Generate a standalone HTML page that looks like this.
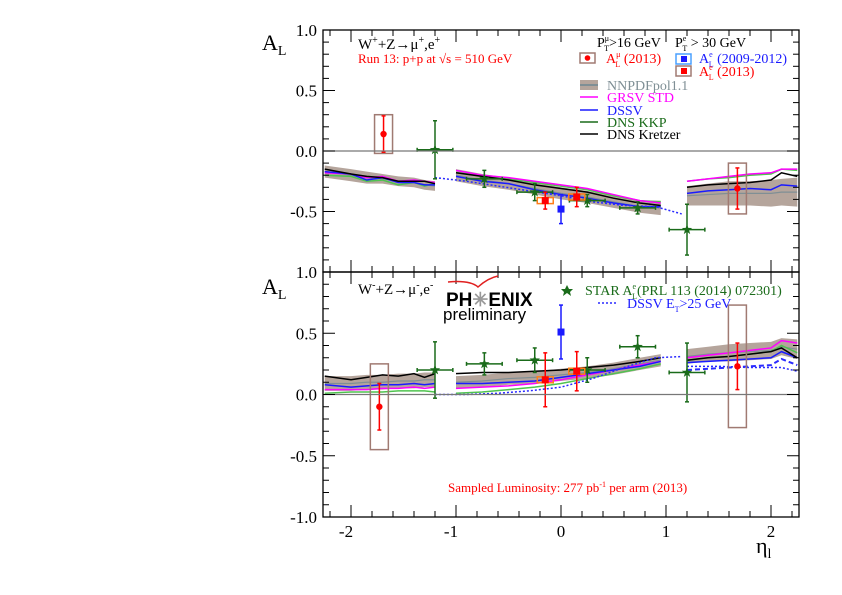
<!DOCTYPE html>
<html><head><meta charset="utf-8"><style>
body{margin:0;background:#fff;width:842px;height:595px;overflow:hidden;position:relative}
svg{display:block;font-family:"Liberation Serif",serif}
</style></head><body>
<svg id="chart" width="842" height="595" viewBox="0 0 842 595">
<g id="bands"></g><g id="curves"></g><g id="points"></g><g id="frame"></g><g id="labels"></g>
</svg>
<script>
// x-axis (eta) segments
const etaBack = [-2.25,-2.0,-1.85,-1.7,-1.55,-1.4,-1.3,-1.2];
const etaCent = [-1.0,-0.75,-0.5,-0.25,0,0.25,0.5,0.75,0.95];
const etaFwd  = [1.2,1.4,1.6,1.8,2.0,2.1,2.25];
// top panel (W+) theory
const topKretzer = [[-0.15,-0.19,-0.21,-0.22,-0.25,-0.25,-0.25,-0.27],[-0.18,-0.21,-0.24,-0.28,-0.31,-0.34,-0.39,-0.43,-0.45],[-0.30,-0.28,-0.27,-0.26,-0.24,-0.18,-0.21]];
const topGRSV    = [[-0.18,-0.19,-0.22,-0.21,-0.25,-0.24,-0.25,-0.26],[-0.16,-0.20,-0.22,-0.25,-0.28,-0.31,-0.36,-0.41,-0.43],[-0.25,-0.23,-0.21,-0.19,-0.18,-0.15,-0.15]];
const topDSSV    = [[-0.17,-0.19,-0.24,-0.22,-0.26,-0.26,-0.28,-0.28],[-0.21,-0.25,-0.27,-0.32,-0.36,-0.39,-0.43,-0.46,-0.46],[-0.35,-0.33,-0.32,-0.31,-0.32,-0.28,-0.29]];
const topKKP     = [[-0.20,-0.21,-0.25,-0.24,-0.28,-0.26,-0.29,-0.27],[-0.18,-0.20,-0.23,-0.26,-0.29,-0.32,-0.37,-0.41,-0.42],[-0.25,-0.23,-0.22,-0.20,-0.19,-0.15,-0.16]];
const topNNPDF   = [[-0.17,-0.20,-0.22,-0.23,-0.25,-0.26,-0.28,-0.29],[-0.20,-0.24,-0.27,-0.31,-0.35,-0.38,-0.42,-0.46,-0.47],[-0.37,-0.36,-0.35,-0.35,-0.35,-0.34,-0.34]];
const topNNPDFerr = [[0.05,0.05,0.05,0.04,0.04,0.04,0.04,0.04],[0.05,0.05,0.05,0.05,0.05,0.05,0.05,0.05,0.06],[0.08,0.09,0.10,0.10,0.11,0.11,0.12]];
const etaDot = [-1.2,-0.9,-0.6,-0.3,0,0.3,0.6,0.9,1.15];
const topDot = [-0.22,-0.25,-0.29,-0.33,-0.37,-0.42,-0.45,-0.46,-0.52];
// bottom panel (W-) theory
const botKretzer = [[0.15,0.12,0.14,0.16,0.15,0.17,0.14,0.17],[0.17,0.18,0.18,0.19,0.20,0.22,0.24,0.27,0.30],[0.28,0.30,0.31,0.33,0.35,0.38,0.30]];
const botGRSV    = [[0.04,0.04,0.04,0.05,0.05,0.06,0.05,0.06],[0.05,0.06,0.07,0.09,0.12,0.16,0.20,0.24,0.27],[0.30,0.32,0.34,0.36,0.38,0.44,0.42]];
const botDSSV    = [[0.08,0.06,0.07,0.08,0.08,0.09,0.08,0.09],[0.09,0.09,0.10,0.11,0.14,0.17,0.20,0.23,0.27],[0.26,0.27,0.28,0.29,0.30,0.35,0.30]];
const botKKP     = [[0.01,0.02,0.02,0.02,0.03,0.03,0.03,0.02],[0.01,0.02,0.04,0.06,0.09,0.13,0.17,0.21,0.25],[0.28,0.30,0.31,0.33,0.35,0.40,0.34]];
const botNNPDF   = [[0.09,0.09,0.10,0.10,0.11,0.11,0.12,0.12],[0.10,0.11,0.13,0.14,0.16,0.18,0.21,0.25,0.28],[0.31,0.33,0.34,0.35,0.36,0.39,0.37]];
const botNNPDFerr = [[0.06,0.06,0.06,0.06,0.06,0.06,0.06,0.06],[0.05,0.05,0.05,0.05,0.05,0.05,0.05,0.05,0.05],[0.06,0.06,0.07,0.07,0.07,0.07,0.08]];
const botDot = [0.00,0.00,0.01,0.03,0.06,0.13,0.22,0.30,0.31];
const etaDotF = [1.2,1.5,1.8,2.1,2.25];
const botDotF = [0.23,0.23,0.22,0.22,0.19];
// data points: [eta, value, error]
const topMu  = [[-1.69,0.14,0.15],[1.68,-0.31,0.17]];
const topMuSys = [0.16,0.21];
const botMu  = [[-1.73,-0.10,0.19],[1.68,0.23,0.19]];
const botMuSys = [0.35,0.50];
const topStar = [[-1.2,0.01,0.24],[-0.73,-0.23,0.07],[-0.25,-0.34,0.07],[0.25,-0.41,0.05],[0.73,-0.47,0.05],[1.2,-0.65,0.21]];
const botStar = [[-1.2,0.20,0.23],[-0.73,0.25,0.09],[-0.25,0.28,0.10],[0.25,0.20,0.10],[0.73,0.39,0.09],[1.2,0.18,0.24]];
const topEblue = [[0.0,-0.48,0.12]];
const botEblue = [[0.0,0.51,0.22]];
const topEred = [[-0.15,-0.41,0.07],[0.15,-0.38,0.08]];
const botEred = [[-0.15,0.12,0.22],[0.15,0.19,0.16]];
const yTicks = ["1.0","0.5","0.0","-0.5","-1.0"];
const xTicks = [-2,-1,0,1,2];

const NS="http://www.w3.org/2000/svg";
const X0=323,X1=799;
const xs=e=>561+105*e;
const panels={top:{zero:151,s:121},bot:{zero:394.5,s:122.5}};
function ys(p,v){return panels[p].zero-panels[p].s*v;}
function mk(tag,attrs,parent){const el=document.createElementNS(NS,tag);for(const k in attrs)el.setAttribute(k,attrs[k]);document.getElementById(parent).appendChild(el);return el;}
function band(p,etas,mid,err,name){
  let pts=etas.map((e,i)=>xs(e)+","+ys(p,mid[i]+err[i]));
  pts=pts.concat(etas.map((e,i)=>xs(e)+","+ys(p,mid[i]-err[i])).reverse());
  const el=mk('polygon',{points:pts.join(' '),fill:'#b5a59c'},'bands');
  
  
  const l=mk('polyline',{points:etas.map((e,i)=>xs(e)+","+ys(p,mid[i])).join(' '),fill:'none',stroke:'#7f8f95','stroke-width':1.2},'bands');
  
  
}
function curve(p,etas,vals,color,name,dash,w){
  const el=mk('polyline',{points:etas.map((e,i)=>xs(e)+","+ys(p,vals[i])).join(' '),fill:'none',stroke:color,'stroke-width':w||1.5,'stroke-dasharray':dash||'none'},'curves');
  
  
}
const segs=[etaBack,etaCent,etaFwd];
[['top',topNNPDF,topNNPDFerr],['bot',botNNPDF,botNNPDFerr]].forEach(([p,m,e])=>segs.forEach((s,i)=>band(p,s,m[i],e[i],p+'-nnpdf-band')));
const sets=[['kkp','#4fc34f',topKKP,botKKP],['grsv','#ff00ff',topGRSV,botGRSV],['dssv','#1a1aff',topDSSV,botDSSV],['kretzer','#000',topKretzer,botKretzer]];
sets.forEach(([n,c,t,b])=>segs.forEach((s,i)=>{curve('top',s,t[i],c,'top-'+n+'-curve');curve('bot',s,b[i],c,'bot-'+n+'-curve');}));
curve('top',etaDot,topDot,'#2a2aff','top-dssv-et25-curve','2,2',1.5);
curve('bot',etaDot,botDot,'#2a2aff','bot-dssv-et25-curve','2,2',1.5);
curve('bot',etaDotF,botDotF,'#2a2aff','bot-dssv-et25-fwd-curve','2,2',1.5);
curve('bot',etaFwd,botDSSV[2].map(v=>v-0.06),'#2a2aff','bot-dssv-fwd-dashed','5,3',2);

function errbar(p,d,color,xerr,name){
  const g=mk('g',{},'points');
  
  
  const x=xs(d[0]);
  const a=document.createElementNS(NS,'line');
  [['x1',x],['x2',x],['y1',ys(p,d[1]+d[2])],['y2',ys(p,d[1]-d[2])],['stroke',color],['stroke-width',1.5]].forEach(([k,v])=>a.setAttribute(k,v));g.appendChild(a);
  [d[1]+d[2],d[1]-d[2]].forEach(v=>{const c=document.createElementNS(NS,'line');[['x1',x-2],['x2',x+2],['y1',ys(p,v)],['y2',ys(p,v)],['stroke',color],['stroke-width',1.5]].forEach(([k,vv])=>c.setAttribute(k,vv));g.appendChild(c);});
  if(xerr){const h=document.createElementNS(NS,'line');[['x1',xs(d[0]-xerr)],['x2',xs(d[0]+xerr)],['y1',ys(p,d[1])],['y2',ys(p,d[1])],['stroke',color],['stroke-width',1.5]].forEach(([k,v])=>h.setAttribute(k,v));g.appendChild(h);
    [d[0]-xerr,d[0]+xerr].forEach(e=>{const c=document.createElementNS(NS,'line');[['x1',xs(e)],['x2',xs(e)],['y1',ys(p,d[1])-2],['y2',ys(p,d[1])+2],['stroke',color],['stroke-width',1.5]].forEach(([k,v])=>c.setAttribute(k,v));g.appendChild(c);});}
  return g;
}
function mu(p,arr,sys){arr.forEach((d,i)=>{
  const b=mk('rect',{x:xs(d[0])-9,y:ys(p,d[1]+sys[i]),width:18,height:ys(p,d[1]-sys[i])-ys(p,d[1]+sys[i]),fill:'none',stroke:'#a07a72','stroke-width':1.5},'points');
  
  
  errbar(p,d,'#ff0000',0,p+'-mu-point');
  const c=mk('circle',{cx:xs(d[0]),cy:ys(p,d[1]),r:3.2,fill:'#ff0000'},'points');
  
  
});}
function star(cx,cy,r){let s=[];for(let i=0;i<10;i++){const a=-Math.PI/2+i*Math.PI/5;const rr=i%2?r*0.4:r;s.push((cx+rr*Math.cos(a)).toFixed(1)+','+(cy+rr*Math.sin(a)).toFixed(1));}return s.join(' ');}
function stars(p,arr){arr.forEach(d=>{errbar(p,d,'#1a6b1a',0.17,p+'-star-point');
  const s=mk('polygon',{points:star(xs(d[0]),ys(p,d[1]),5.5),fill:'#1a6b1a'},'points');
  
  });}
function sq(p,arr,color,name,orange){arr.forEach(d=>{
  if(orange){const o=mk('rect',{x:xs(d[0])-8,y:ys(p,d[1])-3,width:16,height:6,fill:'none',stroke:'#ff7f1a','stroke-width':1.5},'points');
    
    }
  errbar(p,d,color,0,name);
  const r=mk('rect',{x:xs(d[0])-3.5,y:ys(p,d[1])-3.5,width:7,height:7,fill:color},'points');
  
  });}
stars('top',topStar);stars('bot',botStar);
mu('top',topMu,topMuSys);mu('bot',botMu,botMuSys);
sq('top',topEblue,'#1a1aff','top-e-2009-point');sq('bot',botEblue,'#1a1aff','bot-e-2009-point');
sq('top',topEred,'#ff0000','top-e-2013-point',true);sq('bot',botEred,'#ff0000','bot-e-2013-point',true);

// frame, axes, ticks
['top','bot'].forEach(p=>{
  const yt=ys(p,1),yb=ys(p,-1);
  const r=mk('rect',{x:X0,y:yt,width:X1-X0,height:yb-yt,fill:'none',stroke:'#000','stroke-width':1.3},'frame');
  
  
  const z=mk('line',{x1:X0,x2:X1,y1:ys(p,0),y2:ys(p,0),stroke:'#777','stroke-width':1.3},'frame');
  
  
  for(let k=-10;k<=10;k++){const y=ys(p,k/10);const L=k%5===0?12:6;
    mk('line',{x1:X0,x2:X0+L,y1:y,y2:y,stroke:'#000'},'frame');mk('line',{x1:X1-L,x2:X1,y1:y,y2:y,stroke:'#000'},'frame');}
  for(let e=-2.2;e<=2.21;e+=0.2){const x=xs(e);const maj=Math.abs(e-Math.round(e))<0.01;const L=maj?12:6;
    mk('line',{x1:x,x2:x,y1:yb-L,y2:yb,stroke:'#000'},'frame');mk('line',{x1:x,x2:x,y1:yt,y2:yt+L,stroke:'#000'},'frame');}
  yTicks.forEach((t,i)=>{if(p==='top'&&i===4)return;
    const el=mk('text',{x:X0-6,y:ys(p,parseFloat(t))+6,'text-anchor':'end','font-size':17},'labels');el.textContent=t;
    
    });
});
xTicks.forEach(t=>{const el=mk('text',{x:xs(t)-(t<0?5:0),y:537,'text-anchor':'middle','font-size':17},'labels');el.textContent=t;
  
  });
</script>
<svg width="842" height="595" style="position:absolute;left:0;top:0">
<g font-family="Liberation Serif,serif">
<text x="262" y="50" font-size="22">A<tspan font-size="14" dy="5">L</tspan></text>
<text x="262" y="294" font-size="22">A<tspan font-size="14" dy="5">L</tspan></text>
<text x="756" y="553" font-size="22">η<tspan font-size="14" dy="5">l</tspan></text>
<text x="358" y="49" font-size="15">W<tspan font-size="10" dy="-6">+</tspan><tspan dy="6">+Z→μ</tspan><tspan font-size="10" dy="-6">+</tspan><tspan dy="6">,e</tspan><tspan font-size="10" dy="-6">+</tspan></text>
<text x="358" y="63" font-size="13" fill="#ff0000">Run 13: p+p at √s = 510 GeV</text>
<text x="358" y="294" font-size="15">W<tspan font-size="10" dy="-6">-</tspan><tspan dy="6">+Z→μ</tspan><tspan font-size="10" dy="-6">-</tspan><tspan dy="6">,e</tspan><tspan font-size="10" dy="-6">-</tspan></text>
<text x="597" y="47" font-size="14">P<tspan font-size="8" dy="-6">μ</tspan><tspan font-size="8" dx="-5" dy="10">T</tspan><tspan dy="-4">&gt;16 GeV</tspan></text>
<text x="675" y="47" font-size="14">P<tspan font-size="8" dy="-6">e</tspan><tspan font-size="8" dx="-4" dy="10">T</tspan><tspan dy="-4"> &gt; 30 GeV</tspan></text>
<rect x="580" y="53" width="15" height="10" fill="none" stroke="#a07a72" stroke-width="1.5"/>
<circle cx="587.5" cy="58" r="2.8" fill="#f00"/>
<text x="606" y="63" font-size="14" fill="#f00">A<tspan font-size="8" dy="-6">μ</tspan><tspan font-size="8" dx="-5" dy="10">L</tspan><tspan dy="-4"> (2013)</tspan></text>
<rect x="676" y="54" width="15" height="10" fill="none" stroke="#4aa0ff" stroke-width="1.5"/>
<rect x="681" y="56" width="6" height="6" fill="#1a1aff"/>
<text x="699" y="63" font-size="14" fill="#1a1aff">A<tspan font-size="8" dy="-6">e</tspan><tspan font-size="8" dx="-4" dy="10">L</tspan><tspan dy="-4"> (2009-2012)</tspan></text>
<rect x="676" y="66" width="15" height="10" fill="none" stroke="#a07a72" stroke-width="1.5"/>
<rect x="681" y="68" width="6" height="6" fill="#f00"/>
<text x="699" y="76" font-size="14" fill="#f00">A<tspan font-size="8" dy="-6">e</tspan><tspan font-size="8" dx="-4" dy="10">L</tspan><tspan dy="-4"> (2013)</tspan></text>
<rect x="580" y="80" width="18" height="10" fill="#b5a59c"/><line x1="580" x2="598" y1="85" y2="85" stroke="#7f8f95" stroke-width="2"/>
<text x="607" y="90" font-size="14" fill="#7f8f95">NNPDFpol1.1</text>
<line x1="580" x2="598" y1="97" y2="97" stroke="#f0f" stroke-width="1.5"/><text x="607" y="102" font-size="14" fill="#f0f">GRSV STD</text>
<line x1="580" x2="598" y1="110" y2="110" stroke="#1a1aff" stroke-width="1.5"/><text x="607" y="115" font-size="14" fill="#1a1aff">DSSV</text>
<line x1="580" x2="598" y1="122" y2="122" stroke="#1a6b1a" stroke-width="1.5"/><text x="607" y="127" font-size="14" fill="#1a6b1a">DNS KKP</text>
<line x1="580" x2="598" y1="134" y2="134" stroke="#000" stroke-width="1.5"/><text x="607" y="139" font-size="14">DNS Kretzer</text>
<polygon points="567,285 569,289 573,289 570,292 571,296 567,293 563,296 564,292 561,289 565,289" fill="#1a6b1a"/>
<text x="585" y="295" font-size="14" fill="#1a6b1a">STAR A<tspan font-size="8" dy="-6">e</tspan><tspan font-size="8" dx="-4" dy="10">L</tspan><tspan dy="-4">(PRL 113 (2014) 072301)</tspan></text>
<line x1="598" x2="617" y1="303" y2="303" stroke="#2a2aff" stroke-width="1.5" stroke-dasharray="2,2"/>
<text x="627" y="308" font-size="14" fill="#1a1aff">DSSV E<tspan font-size="8" dy="4">T</tspan><tspan dy="-4">&gt;25 GeV</tspan></text>
<path d="M448 282 Q470 280 478 287 Q488 278 498 276" fill="none" stroke="#e02020" stroke-width="1.5"/>
<text x="446" y="306" font-family="Liberation Sans,sans-serif" font-weight="bold" font-size="19">PH<tspan fill="#999">✳</tspan>ENIX</text>
<text x="443" y="320" font-family="Liberation Sans,sans-serif" font-size="17">preliminary</text>
<text x="448" y="492" font-size="13" fill="#f00">Sampled Luminosity: 277 pb<tspan font-size="8" dy="-5">-1</tspan><tspan dy="5"> per arm (2013)</tspan></text>
</g></svg>
</body></html>
